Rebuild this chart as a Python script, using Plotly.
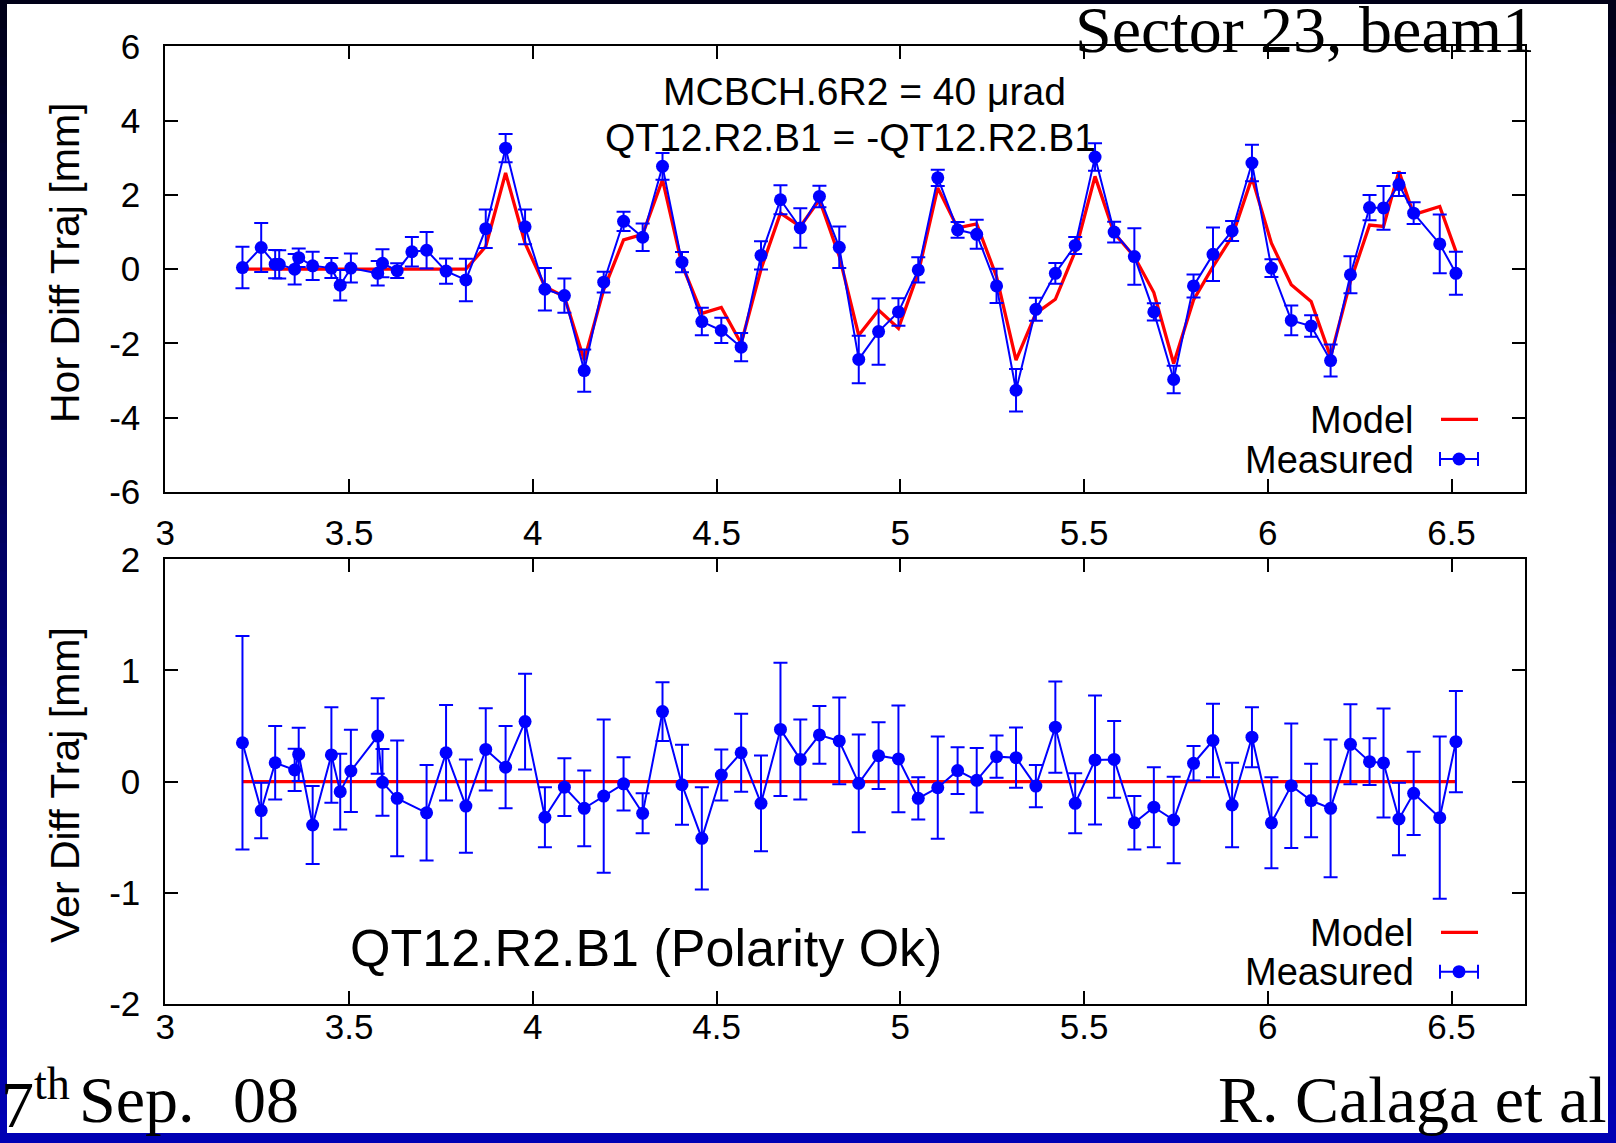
import plotly.graph_objects as go

W, H = 1616, 1143

# ---------------- data ----------------
x_ticks = [3, 3.5, 4, 4.5, 5, 5.5, 6, 6.5]
x_tick_text = ["3", "3.5", "4", "4.5", "5", "5.5", "6", "6.5"]
y_ticks_hor = [-6, -4, -2, 0, 2, 4, 6]
y_tick_text_hor = ["-6", "-4", "-2", "0", "2", "4", "6"]
y_ticks_ver = [-2, -1, 0, 1, 2]
y_tick_text_ver = ["-2", "-1", "0", "1", "2"]

s_hor = [3.210, 3.261, 3.299, 3.310, 3.352, 3.363, 3.401, 3.452, 3.476, 3.505,
         3.578, 3.591, 3.631, 3.671, 3.711, 3.764, 3.818, 3.872, 3.926, 3.979,
         4.033, 4.086, 4.140, 4.193, 4.247, 4.299, 4.353, 4.406, 4.460, 4.513,
         4.567, 4.621, 4.674, 4.728, 4.780, 4.834, 4.887, 4.941, 4.995, 5.049,
         5.102, 5.156, 5.208, 5.262, 5.315, 5.369, 5.422, 5.476, 5.530, 5.582,
         5.637, 5.690, 5.744, 5.798, 5.851, 5.903, 5.957, 6.010, 6.064, 6.118,
         6.171, 6.225, 6.277, 6.315, 6.357, 6.397, 6.468, 6.512]
hor_measured = [0.045, 0.585, 0.135, 0.13, 0.0, 0.31, 0.09, 0.03, -0.43, 0.03,
                -0.11, 0.16, -0.04, 0.47, 0.51, -0.05, -0.29, 1.09, 3.26, 1.14,
                -0.54, -0.71, -2.73, -0.35, 1.29, 0.86, 2.77, 0.19, -1.41, -1.65,
                -2.10, 0.37, 1.87, 1.11, 1.96, 0.59, -2.43, -1.68, -1.15, -0.02,
                2.46, 1.06, 0.94, -0.45, -3.26, -1.08, -0.11, 0.64, 3.02, 1.00,
                0.34, -1.15, -2.97, -0.45, 0.40, 1.03, 2.86, 0.03, -1.38, -1.53,
                -2.46, -0.15, 1.66, 1.65, 2.28, 1.51, 0.68, -0.11]
hor_error = [0.56, 0.66, 0.38, 0.38, 0.41, 0.25, 0.38, 0.27, 0.41, 0.39,
             0.33, 0.38, 0.20, 0.40, 0.49, 0.34, 0.57, 0.52, 0.38, 0.47,
             0.57, 0.46, 0.57, 0.28, 0.26, 0.37, 0.36, 0.27, 0.37, 0.34,
             0.38, 0.38, 0.39, 0.53, 0.29, 0.56, 0.64, 0.89, 0.37, 0.34,
             0.22, 0.21, 0.39, 0.46, 0.57, 0.31, 0.28, 0.23, 0.37, 0.28,
             0.76, 0.23, 0.37, 0.31, 0.72, 0.27, 0.49, 0.24, 0.40, 0.29,
             0.43, 0.50, 0.34, 0.59, 0.31, 0.29, 0.79, 0.58]
hor_model = [0, 0, 0, 0, 0, 0, 0, 0, 0, 0,
             0, 0, 0, 0, 0, 0, 0, 0.61, 2.59, 0.70,
             -0.47, -0.74, -2.45, -0.55, 0.79, 0.94, 2.41, 0.12, -1.19, -1.03,
             -2.00, 0.00, 1.51, 1.15, 1.87, 0.35, -1.78, -1.10, -1.59, -0.10,
             2.19, 1.11, 1.22, -0.20, -2.45, -1.19, -0.81, 0.48, 2.50, 0.97,
             0.34, -0.63, -2.54, -0.83, 0.07, 0.88, 2.46, 0.70, -0.42, -0.87,
             -2.36, -0.33, 1.19, 1.15, 2.64, 1.47, 1.69, 0.48]

s_ver = [3.210, 3.261, 3.299, 3.352, 3.363, 3.401, 3.452, 3.476, 3.505, 3.578,
         3.591, 3.631, 3.711, 3.764, 3.818, 3.872, 3.926, 3.979, 4.033, 4.086,
         4.140, 4.193, 4.247, 4.299, 4.353, 4.406, 4.460, 4.513, 4.567, 4.621,
         4.674, 4.728, 4.780, 4.834, 4.887, 4.941, 4.995, 5.049, 5.102, 5.156,
         5.208, 5.262, 5.315, 5.369, 5.422, 5.476, 5.530, 5.582, 5.637, 5.690,
         5.744, 5.798, 5.851, 5.903, 5.957, 6.010, 6.064, 6.118, 6.171, 6.225,
         6.277, 6.315, 6.357, 6.397, 6.468, 6.512]
ver_measured = [0.35, -0.26, 0.17, 0.105, 0.245, -0.39, 0.24, -0.09, 0.096, 0.41,
                -0.006, -0.15, -0.28, 0.26, -0.22, 0.29, 0.13, 0.54, -0.32, -0.05,
                -0.24, -0.13, -0.02, -0.285, 0.63, -0.027, -0.51, 0.06, 0.26, -0.195,
                0.47, 0.20, 0.42, 0.366, -0.015, 0.234, 0.204, -0.15, -0.054, 0.10,
                0.012, 0.225, 0.216, -0.04, 0.49, -0.195, 0.195, 0.20, -0.37, -0.23,
                -0.345, 0.165, 0.37, -0.21, 0.40, -0.37, -0.036, -0.17, -0.24, 0.336,
                0.18, 0.168, -0.336, -0.105, -0.324, 0.36]
ver_error = [0.96, 0.25, 0.33, 0.19, 0.24, 0.35, 0.43, 0.34, 0.37, 0.34,
             0.30, 0.52, 0.43, 0.43, 0.42, 0.37, 0.37, 0.43, 0.27, 0.26,
             0.34, 0.69, 0.24, 0.18, 0.265, 0.36, 0.46, 0.23, 0.35, 0.43,
             0.60, 0.36, 0.26, 0.39, 0.44, 0.30, 0.48, 0.19, 0.46, 0.21,
             0.29, 0.19, 0.27, 0.19, 0.41, 0.27, 0.58, 0.345, 0.24, 0.36,
             0.39, 0.155, 0.33, 0.38, 0.27, 0.41, 0.56, 0.33, 0.62, 0.36,
             0.21, 0.49, 0.325, 0.375, 0.73, 0.455]
ver_model = [0.0] * len(s_ver)

# ---------------- geometry helpers (pixel -> paper) ----------------
def px(x):
    return x / W

def py(y):
    return 1 - y / H

SANS = "Liberation Sans"
SERIF = "Liberation Serif"
BLUE = "#0000ff"
RED = "#ff0000"

fig = go.Figure()

fig.add_trace(go.Scatter(x=s_hor, y=hor_model, mode="lines", name="Model",
                         line=dict(color=RED, width=3.3), xaxis="x", yaxis="y"))
fig.add_trace(go.Scatter(x=s_ver, y=ver_model, mode="lines", name="Model",
                         line=dict(color=RED, width=3.3), xaxis="x2", yaxis="y2"))
fig.add_trace(go.Scatter(x=s_hor, y=hor_measured, mode="lines+markers", name="Measured",
                         line=dict(color=BLUE, width=2),
                         marker=dict(color=BLUE, size=13),
                         error_y=dict(type="data", array=hor_error, color=BLUE,
                                      thickness=2, width=7),
                         xaxis="x", yaxis="y"))
fig.add_trace(go.Scatter(x=s_ver, y=ver_measured, mode="lines+markers", name="Measured",
                         line=dict(color=BLUE, width=2),
                         marker=dict(color=BLUE, size=13),
                         error_y=dict(type="data", array=ver_error, color=BLUE,
                                      thickness=2, width=7),
                         xaxis="x2", yaxis="y2"))

xdom = [px(165.3), px(1525)]
common_axis = dict(showline=True, linecolor="black", linewidth=2, mirror="ticks",
                   ticks="inside", ticklen=13, tickwidth=1.5, tickcolor="black",
                   showgrid=False, zeroline=False, automargin=False,
                   tickfont=dict(family=SANS, size=35, color="black"))

fig.update_layout(
    width=W, height=H, autosize=False,
    margin=dict(l=0, r=0, t=0, b=0, autoexpand=False),
    paper_bgcolor="white", plot_bgcolor="rgba(0,0,0,0)",
    showlegend=False,
    xaxis=dict(domain=xdom, anchor="y", range=[3, 6.7], tickvals=x_ticks,
               ticktext=x_tick_text, ticklabelstandoff=9, **common_axis),
    yaxis=dict(domain=[py(492), py(46.4)], anchor="x", range=[-6, 6],
               tickvals=y_ticks_hor, ticktext=y_tick_text_hor,
               ticklabelstandoff=16, **common_axis),
    xaxis2=dict(domain=xdom, anchor="y2", range=[3, 6.7], tickvals=x_ticks,
                ticktext=x_tick_text, ticklabelstandoff=-9, **common_axis),
    yaxis2=dict(domain=[py(1004), py(559.3)], anchor="x2", range=[-2, 2],
                tickvals=y_ticks_ver, ticktext=y_tick_text_ver,
                ticklabelstandoff=16, **common_axis),
)

# ---------------- background frame (gradient blue border) ----------------
shapes = []
nb = 40
c0 = (0, 0, 24)
c1 = (0, 0, 180)
for i in range(nb):
    t = i / (nb - 1)
    col = "rgb(%d,%d,%d)" % tuple(int(round(a + (b - a) * t)) for a, b in zip(c0, c1))
    y0 = H * i / nb
    y1 = H * (i + 1) / nb + 1
    shapes.append(dict(type="rect", xref="paper", yref="paper", layer="below",
                       x0=0, x1=1, y0=py(min(y1, H)), y1=py(y0),
                       line=dict(width=0), fillcolor=col))
shapes.append(dict(type="rect", xref="paper", yref="paper", layer="below",
                   x0=px(7), x1=px(1608), y0=py(1133), y1=py(4),
                   line=dict(width=0), fillcolor="white"))

# ---------------- manual legends ----------------
def legend(y_model, y_meas):
    out = []
    out.append(dict(type="line", xref="paper", yref="paper", layer="above",
                    x0=px(1441), x1=px(1478), y0=py(y_model), y1=py(y_model),
                    line=dict(color=RED, width=3.3)))
    out.append(dict(type="line", xref="paper", yref="paper", layer="above",
                    x0=px(1440), x1=px(1478), y0=py(y_meas), y1=py(y_meas),
                    line=dict(color=BLUE, width=2)))
    for xc in (1440, 1478):
        out.append(dict(type="line", xref="paper", yref="paper", layer="above",
                        x0=px(xc), x1=px(xc), y0=py(y_meas - 7), y1=py(y_meas + 7),
                        line=dict(color=BLUE, width=2)))
    out.append(dict(type="circle", xref="paper", yref="paper", layer="above",
                    x0=px(1459 - 6.5), x1=px(1459 + 6.5),
                    y0=py(y_meas + 6.5), y1=py(y_meas - 6.5),
                    line=dict(width=0), fillcolor=BLUE))
    return out

shapes += legend(419.3, 459)
shapes += legend(932.3, 971.7)
fig.update_layout(shapes=shapes)

# ---------------- text ----------------
def ann(text, x, y, size, family=SANS, xanchor="center", yanchor="middle", angle=0):
    return dict(text=text, x=px(x), y=py(y), xref="paper", yref="paper",
                xanchor=xanchor, yanchor=yanchor, showarrow=False, textangle=angle,
                font=dict(family=family, size=size, color="black"))

annotations = [
    ann("Model", 1416, 420, 38, xanchor="right"),
    ann("Measured", 1416, 459.5, 38, xanchor="right"),
    ann("Model", 1416, 932.5, 38, xanchor="right"),
    ann("Measured", 1416, 971.5, 38, xanchor="right"),
    ann("MCBCH.6R2 = 40 μrad", 864, 91, 39),
    ann("QT12.R2.B1 = -QT12.R2.B1", 850, 137, 39),
    ann("QT12.R2.B1 (Polarity Ok)", 646, 948, 52),
    ann("Hor Diff Traj [mm]", 65, 263, 41, angle=-90),
    ann("Ver Diff Traj [mm]", 65, 785, 41, angle=-90),
    ann("Sector 23, beam1", 1537, 29, 66, family=SERIF, xanchor="right"),
    ann("7<sup>th</sup>", -1, 1099, 66, family=SERIF, xanchor="left"),
    ann("Sep.\u2002\u200a08", 77, 1099, 66, family=SERIF, xanchor="left"),
    ann("R. Calaga et al", 1609, 1099, 66, family=SERIF, xanchor="right"),
]
fig.update_layout(annotations=annotations)

fig.write_html("out.html")
